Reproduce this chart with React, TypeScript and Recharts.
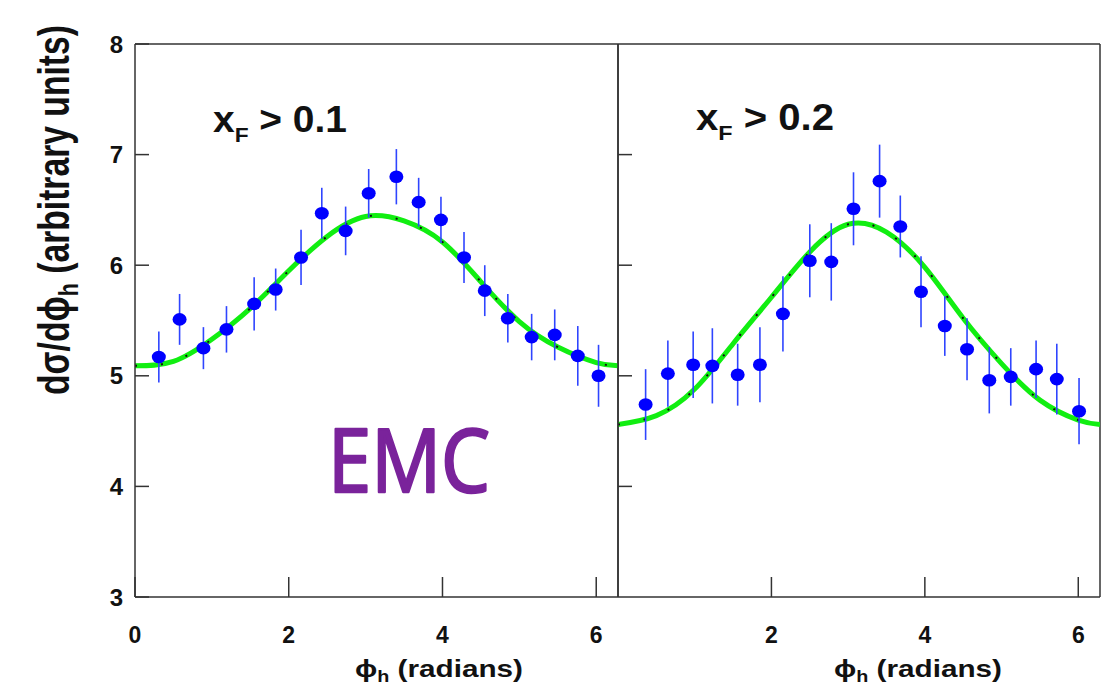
import React from 'react';
import { ComposedChart, ErrorBar, Line, ReferenceLine, Scatter, XAxis, YAxis } from 'recharts';

// ---- data ----
const phiLow = [0.31, 0.58, 0.89, 1.19, 1.55, 1.83, 2.16, 2.43, 2.74, 3.04, 3.4, 3.69, 3.98, 4.28, 4.55, 4.85, 5.16, 5.46, 5.76, 6.03];
const sigmaLow = [5.17, 5.51, 5.25, 5.42, 5.65, 5.78, 6.07, 6.47, 6.31, 6.65, 6.8, 6.57, 6.41, 6.07, 5.77, 5.52, 5.35, 5.37, 5.18, 5.0];
const errLow = [0.23, 0.23, 0.19, 0.21, 0.24, 0.19, 0.25, 0.23, 0.22, 0.22, 0.25, 0.22, 0.21, 0.23, 0.23, 0.22, 0.21, 0.23, 0.27, 0.28];

const phiHigh = [0.36, 0.65, 0.98, 1.23, 1.56, 1.85, 2.15, 2.5, 2.78, 3.07, 3.41, 3.68, 3.95, 4.26, 4.55, 4.84, 5.12, 5.45, 5.72, 6.01];
const sigmaHigh = [4.74, 5.02, 5.1, 5.09, 5.01, 5.1, 5.56, 6.04, 6.03, 6.51, 6.76, 6.35, 5.76, 5.45, 5.24, 4.96, 4.99, 5.06, 4.97, 4.68];
const errHigh = [0.32, 0.3, 0.3, 0.34, 0.28, 0.34, 0.34, 0.33, 0.35, 0.33, 0.33, 0.28, 0.32, 0.27, 0.28, 0.3, 0.26, 0.26, 0.32, 0.3];

// fitted curves
const fitPhi = [0, 0.5, 1.0, 1.5, 2.0, 2.5, 3.0, 3.5, 4.0, 4.5, 5.0, 5.5, 6.0, 6.2832];
const fitLow = [5.09, 5.13, 5.33, 5.61, 5.95, 6.26, 6.44, 6.4, 6.21, 5.85, 5.49, 5.26, 5.12, 5.09];
const fitHigh = [4.56, 4.64, 4.88, 5.29, 5.71, 6.12, 6.37, 6.3, 5.98, 5.52, 5.11, 4.78, 4.6, 4.56];

const yTicks = [3, 4, 5, 6, 7, 8];
const innerYTicks = [4, 5, 6, 7];
const xTicksLeft = [0, 2, 4, 6];
const xTicksRight = [2, 4, 6];

const TWO_PI = 6.2832;
const FONT = '"Liberation Sans", Arial, Helvetica, sans-serif';
const AXIS = '#333';

const points = (xs: number[], ys: number[], es: number[]) => xs.map((x, i) => ({ x, y: ys[i], err: es[i] }));
const curve = (ys: number[]) => fitPhi.map((x, i) => ({ x, y: ys[i] }));

const Marker = (props: any) => <ellipse cx={props.cx} cy={props.cy} rx={7} ry={6.3} fill="#0000ff" />;

const LabelledYTick = ({ x, y, payload }: any) => (
  <g>
    <line x1={x} x2={x + 14} y1={y} y2={y} stroke={AXIS} strokeWidth={1.5} />
    <text x={x - 12} y={y} textAnchor="end" dominantBaseline="central" fontFamily={FONT} fontWeight="bold" fontSize={24} fill="#111">
      {payload.value}
    </text>
  </g>
);

const BareYTick = ({ x, y }: any) => <line x1={x} x2={x + 14} y1={y} y2={y} stroke={AXIS} strokeWidth={1.5} />;

const XTick = ({ x, y, payload }: any) => (
  <g>
    <line x1={x} x2={x} y1={y} y2={y - 20} stroke={AXIS} strokeWidth={1.5} />
    <text x={x} y={y + 38} textAnchor="middle" dominantBaseline="central" fontFamily={FONT} fontWeight="bold" fontSize={23} fill="#111">
      {payload.value}
    </text>
  </g>
);

interface PanelProps {
  data: { x: number; y: number; err: number }[];
  fit: { x: number; y: number }[];
  width: number;
  yAxisWidth: number;
  xTicks: number[];
  labelled: boolean;
}

function Panel({ data, fit, width, yAxisWidth, xTicks, labelled }: PanelProps) {
  return (
    <ComposedChart width={width} height={687} margin={{ top: 44, right: 2, bottom: 60, left: 0 }}>
      <XAxis
        type="number"
        dataKey="x"
        domain={[0, TWO_PI]}
        allowDataOverflow
        ticks={xTicks}
        height={30}
        tickSize={0}
        tickMargin={0}
        tickLine={false}
        axisLine={{ stroke: AXIS, strokeWidth: 1.5 }}
        tick={<XTick />}
      />
      <YAxis
        type="number"
        domain={[3, 8]}
        allowDataOverflow
        ticks={labelled ? yTicks : innerYTicks}
        width={yAxisWidth}
        tickSize={0}
        tickMargin={0}
        tickLine={false}
        axisLine={{ stroke: AXIS, strokeWidth: 1.5 }}
        tick={labelled ? <LabelledYTick /> : <BareYTick />}
      />
      <ReferenceLine y={8} stroke={AXIS} strokeWidth={1.5} ifOverflow="visible" />
      <ReferenceLine x={TWO_PI} stroke={AXIS} strokeWidth={1.5} ifOverflow="visible" />
      <Line data={fit} dataKey="y" type="natural" stroke="#11ee11" strokeWidth={5} dot={false} activeDot={false} isAnimationActive={false} />
      <Line
        data={fit}
        dataKey="y"
        type="natural"
        stroke="#111"
        strokeWidth={2}
        strokeDasharray="2 24"
        dot={false}
        activeDot={false}
        isAnimationActive={false}
      />
      <Scatter data={data} dataKey="y" shape={Marker} isAnimationActive={false}>
        <ErrorBar dataKey="err" direction="y" width={0} stroke="#2f45ff" strokeWidth={1.6} />
      </Scatter>
    </ComposedChart>
  );
}

export default function App() {
  return (
    <div style={{ position: 'absolute', left: 0, top: 0, width: 1116, height: 687, background: '#fff', overflow: 'hidden' }}>
      <div style={{ position: 'absolute', left: 0, top: 0 }}>
        <Panel data={points(phiLow, sigmaLow, errLow)} fit={curve(fitLow)} width={620} yAxisWidth={135} xTicks={xTicksLeft} labelled />
      </div>
      <div style={{ position: 'absolute', left: 600, top: 0 }}>
        <Panel data={points(phiHigh, sigmaHigh, errHigh)} fit={curve(fitHigh)} width={502} yAxisWidth={18} xTicks={xTicksRight} labelled={false} />
      </div>
      <svg width={1116} height={687} style={{ position: 'absolute', left: 0, top: 0, pointerEvents: 'none' }} fontFamily={FONT}>
        <text
          transform="translate(69,210) rotate(-90) scale(1,1.33)"
          textAnchor="middle"
          fontWeight="bold"
          fontSize={33}
          fill="#111"
          textLength={370}
          lengthAdjust="spacingAndGlyphs"
        >
          dσ/dϕ
          <tspan fontSize={21} dy={7}>h</tspan>
          <tspan dy={-7}> (arbitrary units)</tspan>
        </text>
        {[439, 918].map((cx) => (
          <text key={cx} x={cx} y={677} textAnchor="middle" fontWeight="bold" fontSize={24} fill="#111" textLength={168} lengthAdjust="spacingAndGlyphs">
            ϕ<tspan fontSize={16} dy={5}>h</tspan>
            <tspan dy={-5}> (radians)</tspan>
          </text>
        ))}
        <text x={213} y={132} fontWeight="bold" fontSize={36} fill="#111" textLength={134} lengthAdjust="spacingAndGlyphs">
          x<tspan fontSize={21} dy={10}>F</tspan>
          <tspan dy={-10}> &gt; 0.1</tspan>
        </text>
        <text x={696} y={130} fontWeight="bold" fontSize={36} fill="#111" textLength={138} lengthAdjust="spacingAndGlyphs">
          x<tspan fontSize={21} dy={10}>F</tspan>
          <tspan dy={-10}> &gt; 0.2</tspan>
        </text>
        <text
          x={328}
          y={492}
          fontFamily='"Open Sans", "DejaVu Sans", sans-serif'
          fontSize={88}
          fill="#7a239b"
          stroke="#7a239b"
          strokeWidth={2.5}
          strokeLinejoin="round"
          textLength={162}
          lengthAdjust="spacingAndGlyphs"
        >
          EMC
        </text>
      </svg>
    </div>
  );
}
